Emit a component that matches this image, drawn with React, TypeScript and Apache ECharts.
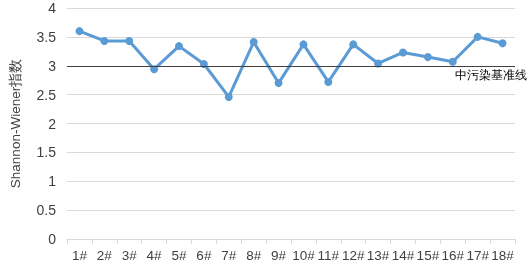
import React, { useEffect, useRef } from "react";
import * as echarts from "echarts";

const categories = ["1#", "2#", "3#", "4#", "5#", "6#", "7#", "8#", "9#", "10#", "11#", "12#", "13#", "14#", "15#", "16#", "17#", "18#"];
const shannonValues = [3.6, 3.43, 3.43, 2.94, 3.34, 3.03, 2.46, 3.41, 2.7, 3.37, 2.72, 3.37, 3.04, 3.23, 3.15, 3.07, 3.5, 3.39];
const baselineValue = 3;
const baselineLabel = "中污染基准线";
const yAxisName = "Shannon-Wiener指数";

export default function App() {
  const ref = useRef<HTMLDivElement>(null);
  useEffect(() => {
    if (!ref.current) return;
    const chart = echarts.init(ref.current, undefined, { renderer: "svg" });
    const font = "'Liberation Sans', Arial, sans-serif";
    chart.setOption({
      animation: false,
      textStyle: { fontFamily: font },
      grid: { left: 63, right: 17, top: 8, bottom: 25, containLabel: false },
      xAxis: {
        type: "category",
        data: categories,
        boundaryGap: true,
        axisLine: { lineStyle: { color: "#d9d9d9", width: 1 } },
        axisTick: { show: true, alignWithLabel: false, length: 5, lineStyle: { color: "#d9d9d9" } },
        axisLabel: { color: "#404040", fontSize: 13.5, margin: 9, interval: 0, fontFamily: font },
      },
      yAxis: {
        type: "value",
        min: 0,
        max: 4,
        interval: 0.5,
        name: yAxisName,
        nameLocation: "middle",
        nameGap: 45,
        nameRotate: 90,
        nameTextStyle: { color: "#404040", fontSize: 13.5, fontFamily: font },
        axisLine: { show: false },
        axisTick: { show: false },
        axisLabel: { color: "#404040", fontSize: 14, margin: 11, fontFamily: font },
        splitLine: { lineStyle: { color: "#d9d9d9", width: 1 } },
      },
      series: [
        {
          type: "line",
          data: shannonValues,
          symbol: "circle",
          symbolSize: 8,
          lineStyle: { color: "#5B9BD5", width: 3 },
          itemStyle: { color: "#5B9BD5" },
          markLine: {
            silent: true,
            symbol: ["none", "none"],
            lineStyle: { color: "#404040", width: 1, type: "solid" },
            label: {
              show: true,
              position: "insideEndBottom",
              formatter: baselineLabel,
              color: "#000",
              fontSize: 12,
              distance: [-12, 3],
            },
            data: [{ yAxis: baselineValue }],
          },
        },
      ],
    });
    return () => chart.dispose();
  }, []);
  return <div ref={ref} style={{ width: 532, height: 264, position: "fixed", left: 0, top: 0 }} />;
}
